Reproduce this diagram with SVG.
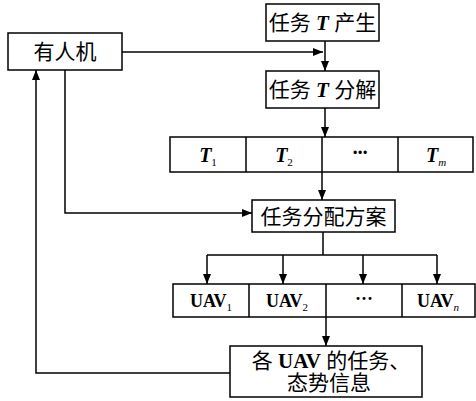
<svg xmlns="http://www.w3.org/2000/svg" width="476" height="401" viewBox="0 0 476 401">
<defs>
<marker id="ah" viewBox="0 0 10 10" refX="10" refY="5" markerWidth="10" markerHeight="10" markerUnits="userSpaceOnUse" orient="auto">
<path d="M0,1 L10,5 L0,9 Z" fill="#000"/>
</marker>
<style>
rect{fill:#fff;stroke:#000;stroke-width:1.5}
.ln{fill:none;stroke:#000;stroke-width:1.5}
.cn{font-family:"Liberation Serif","Noto Sans CJK SC",serif;font-size:21px;fill:#000;text-anchor:middle}
.t{font-family:"Liberation Serif",serif;font-weight:bold;font-style:italic;font-size:20px;text-anchor:middle}
.u{font-family:"Liberation Serif",serif;font-weight:bold;font-size:18px;text-anchor:middle}
.sub{font-size:11px;font-weight:normal}
</style>
</defs>
<g id="edges">
<path class="ln" d="M122,52 H323" marker-end="url(#ah)"/>
<path class="ln" d="M325,41 V71" marker-end="url(#ah)"/>
<path class="ln" d="M325,108 V137" marker-end="url(#ah)"/>
<path class="ln" d="M322,172 V200" marker-end="url(#ah)"/>
<path class="ln" d="M65,70 V213 H252" marker-end="url(#ah)"/>
<path class="ln" d="M323,232 V255"/>
<path class="ln" d="M207,255 H437"/>
<path class="ln" d="M207,255 V284" marker-end="url(#ah)"/>
<path class="ln" d="M283,255 V284" marker-end="url(#ah)"/>
<path class="ln" d="M363,255 V284" marker-end="url(#ah)"/>
<path class="ln" d="M437,255 V284" marker-end="url(#ah)"/>
<path class="ln" d="M326,317 V346" marker-end="url(#ah)"/>
<path class="ln" d="M230,373 H36 V70" marker-end="url(#ah)"/>
</g>
<g id="n1"><rect x="266" y="4" width="113" height="37"/>
<text class="cn" x="322.5" y="30">任务 <tspan font-style="italic" font-weight="bold">T</tspan> 产生</text></g>
<g id="n2"><rect x="8" y="33" width="114" height="37"/>
<text class="cn" x="65" y="59">有人机</text></g>
<g id="n3"><rect x="266" y="71" width="113" height="37"/>
<text class="cn" x="322.5" y="97">任务 <tspan font-style="italic" font-weight="bold">T</tspan> 分解</text></g>
<g id="n4">
<rect x="170" y="137" width="303" height="35"/>
<path class="ln" d="M246,137 V172 M322,137 V172 M398,137 V172"/>
<text class="t" x="208" y="162">T<tspan class="sub" font-style="normal" dy="4">1</tspan></text>
<text class="t" x="284" y="162">T<tspan class="sub" font-style="normal" dy="4">2</tspan></text>
<text class="t" x="360" y="159" font-style="normal">···</text>
<text class="t" x="436" y="162">T<tspan class="sub" dy="4">m</tspan></text>
</g>
<g id="n5"><rect x="252" y="200" width="143" height="32"/>
<text class="cn" x="323.5" y="224">任务分配方案</text></g>
<g id="n6">
<rect x="173" y="284" width="302" height="33"/>
<path class="ln" d="M249,284 V317 M326,284 V317 M402,284 V317"/>
<text class="u" x="211" y="307">UAV<tspan class="sub" dy="4">1</tspan></text>
<text class="u" x="287" y="307">UAV<tspan class="sub" dy="4">2</tspan></text>
<text class="u" x="364" y="305">···</text>
<text class="u" x="438" y="307">UAV<tspan class="sub" font-style="italic" dy="4">n</tspan></text>
</g>
<g id="n7"><rect x="230" y="346" width="192" height="51"/>
<text class="cn" x="331" y="368">各 <tspan font-weight="bold">UAV</tspan> 的任务、</text>
<text class="cn" x="329" y="390">态势信息</text></g>
</svg>
